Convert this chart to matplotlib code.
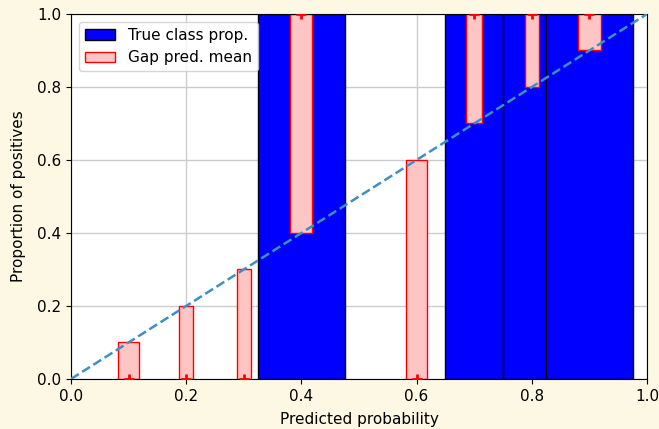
import matplotlib.pyplot as plt

plt.rcParams['font.size'] = 11

# bins where the true class proportion is shown (left edge, width, proportion)
bin_left = [0.325, 0.65, 0.75, 0.825]
bin_width = [0.15, 0.10, 0.075, 0.15]
true_prop_bins = [1.0, 1.0, 1.0, 1.0]

# mean predicted probability per group and the true label proportion
pred_mean = [0.1, 0.2, 0.3, 0.4, 0.6, 0.7, 0.8, 0.9]
true_prop = [0.0, 0.0, 0.0, 1.0, 0.0, 1.0, 1.0, 1.0]
gap_width = [0.035, 0.025, 0.025, 0.038, 0.036, 0.027, 0.025, 0.039]

fig = plt.figure(figsize=(6.59, 4.29), dpi=100, facecolor='#fcf8e3')
ax = fig.add_axes([0.1077, 0.1166, 0.8741, 0.8508])
ax.set_axisbelow(True)
ax.grid(True, color='#cccccc', linewidth=1)

ax.bar(bin_left, true_prop_bins, width=bin_width, align='edge',
       color='blue', edgecolor='black', linewidth=1, label='True class prop.')

bottoms = [min(p, t) for p, t in zip(pred_mean, true_prop)]
heights = [abs(p - t) for p, t in zip(pred_mean, true_prop)]
ax.bar(pred_mean, heights, bottom=bottoms, width=gap_width,
       color='#ffc4c4', edgecolor='red', linewidth=1, label='Gap pred. mean')
ax.plot(pred_mean, true_prop, '+', color='red', markersize=7,
        markeredgewidth=2, zorder=3)

ax.plot([0, 1], [0, 1], '--', color='#3d8fc4', linewidth=1.8, zorder=4)

ax.set_xlim(0, 1)
ax.set_ylim(0, 1)
ax.set_xlabel('Predicted probability', labelpad=6)
ax.set_ylabel('Proportion of positives', labelpad=8)
ax.legend(loc='upper left')

fig.savefig('out.png', dpi=100, facecolor=fig.get_facecolor())
